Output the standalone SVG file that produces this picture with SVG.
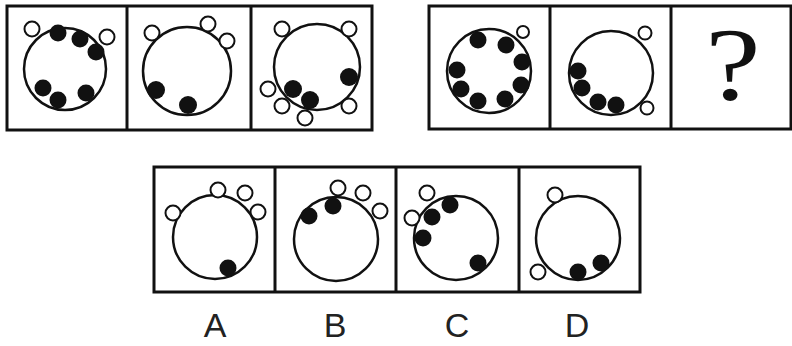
<svg xmlns="http://www.w3.org/2000/svg" width="792" height="346" viewBox="0 0 792 346">
<style>
.box{fill:none;stroke:#111;stroke-width:3}
.ring{fill:none;stroke:#111;stroke-width:2.5}
.w{fill:#fff;stroke:#111;stroke-width:2}
.b{fill:#111}
.lbl{font-family:"Liberation Sans",Arial,sans-serif;font-size:34px;fill:#222;text-anchor:middle}
.q{font-family:"Liberation Serif","Times New Roman",serif;font-size:96px;fill:#111;text-anchor:middle}
</style>
<rect width="792" height="346" fill="#fff"/>
<g id="row1-left">
<rect class="box" x="7" y="6" width="365" height="124"/>
<line class="box" x1="127" y1="6" x2="127" y2="130"/>
<line class="box" x1="251" y1="6" x2="251" y2="130"/>
</g>
<g id="p1">
<circle class="ring" cx="65" cy="69" r="41"/>
<circle class="w" cx="32" cy="29" r="7.5"/>
<circle class="w" cx="107" cy="37" r="7.5"/>
<circle class="b" cx="58" cy="33" r="8.5"/>
<circle class="b" cx="80" cy="39" r="8.5"/>
<circle class="b" cx="96" cy="52" r="8.5"/>
<circle class="b" cx="43" cy="88" r="8.5"/>
<circle class="b" cx="58" cy="100" r="8.5"/>
<circle class="b" cx="86" cy="93" r="8.5"/>
</g>
<g id="p2">
<circle class="ring" cx="187" cy="71" r="44"/>
<circle class="w" cx="152" cy="33" r="7.5"/>
<circle class="w" cx="208" cy="24" r="7.5"/>
<circle class="w" cx="227" cy="41" r="7.5"/>
<circle class="b" cx="156" cy="90" r="9"/>
<circle class="b" cx="188" cy="105" r="9"/>
</g>
<g id="p3">
<circle class="ring" cx="317" cy="67" r="43"/>
<circle class="w" cx="282" cy="29" r="7.5"/>
<circle class="w" cx="349" cy="29" r="7.5"/>
<circle class="w" cx="268" cy="89" r="7.5"/>
<circle class="w" cx="282" cy="106" r="7.5"/>
<circle class="w" cx="305" cy="118" r="7.5"/>
<circle class="w" cx="349" cy="106" r="7.5"/>
<circle class="b" cx="293" cy="89" r="9"/>
<circle class="b" cx="310" cy="100" r="9"/>
<circle class="b" cx="349" cy="77" r="9"/>
</g>
<g id="row1-right">
<rect class="box" x="429" y="6" width="362" height="123"/>
<line class="box" x1="550" y1="6" x2="550" y2="129"/>
<line class="box" x1="671" y1="6" x2="671" y2="129"/>
</g>
<g id="p4">
<circle class="ring" cx="489" cy="71" r="42"/>
<circle class="w" cx="523" cy="32" r="6"/>
<circle class="b" cx="478" cy="40" r="8.5"/>
<circle class="b" cx="506" cy="45" r="8.5"/>
<circle class="b" cx="522" cy="62" r="8.5"/>
<circle class="b" cx="457" cy="70" r="8.5"/>
<circle class="b" cx="461" cy="89" r="8.5"/>
<circle class="b" cx="478" cy="101" r="8.5"/>
<circle class="b" cx="505" cy="99" r="8.5"/>
<circle class="b" cx="521" cy="85" r="8.5"/>
</g>
<g id="p5">
<circle class="ring" cx="611" cy="73" r="42"/>
<circle class="w" cx="645" cy="33" r="6.5"/>
<circle class="w" cx="647" cy="108" r="6.5"/>
<circle class="b" cx="578" cy="71" r="8.5"/>
<circle class="b" cx="582" cy="88" r="8.5"/>
<circle class="b" cx="598" cy="102" r="8.5"/>
<circle class="b" cx="616" cy="105" r="8.5"/>
</g>
<g id="p6">
<text class="q" transform="translate(733,100) scale(1.3,1.08)">?</text>
</g>
<g id="row2">
<rect class="box" x="154" y="167" width="486" height="125"/>
<line class="box" x1="275" y1="167" x2="275" y2="292"/>
<line class="box" x1="396" y1="167" x2="396" y2="292"/>
<line class="box" x1="519" y1="167" x2="519" y2="292"/>
</g>
<g id="optA">
<circle class="ring" cx="215" cy="237" r="42"/>
<circle class="w" cx="173" cy="213" r="7.5"/>
<circle class="w" cx="218" cy="190" r="7.5"/>
<circle class="w" cx="245" cy="193" r="7.5"/>
<circle class="w" cx="258" cy="212" r="7.5"/>
<circle class="b" cx="228" cy="268" r="8.5"/>
</g>
<g id="optB">
<circle class="ring" cx="336" cy="239" r="42"/>
<circle class="w" cx="338" cy="188" r="7.5"/>
<circle class="w" cx="363" cy="193" r="7.5"/>
<circle class="w" cx="380" cy="211" r="7.5"/>
<circle class="b" cx="309" cy="216" r="8.5"/>
<circle class="b" cx="333" cy="206" r="8.5"/>
</g>
<g id="optC">
<circle class="ring" cx="456" cy="238" r="42"/>
<circle class="w" cx="427" cy="193" r="7.5"/>
<circle class="w" cx="412" cy="218" r="7.5"/>
<circle class="b" cx="450" cy="205" r="8.5"/>
<circle class="b" cx="432" cy="217" r="8.5"/>
<circle class="b" cx="423" cy="238" r="8.5"/>
<circle class="b" cx="478" cy="263" r="8.5"/>
</g>
<g id="optD">
<circle class="ring" cx="578" cy="238" r="42"/>
<circle class="w" cx="555" cy="195" r="7.5"/>
<circle class="w" cx="538" cy="272" r="7.5"/>
<circle class="b" cx="578" cy="272" r="8.5"/>
<circle class="b" cx="601" cy="263" r="8.5"/>
</g>
<g id="labels">
<text class="lbl" x="215" y="337">A</text>
<text class="lbl" x="335" y="337">B</text>
<text class="lbl" x="457" y="337">C</text>
<text class="lbl" x="577" y="337">D</text>
</g>
</svg>
